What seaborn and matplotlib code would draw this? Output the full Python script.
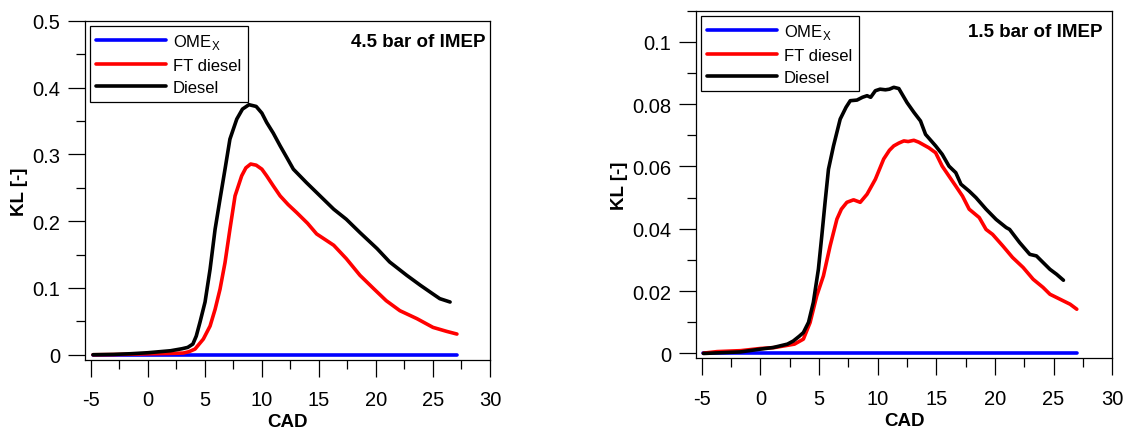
import numpy as np
import pandas as pd
import seaborn as sns
import matplotlib.pyplot as plt
from matplotlib.ticker import MultipleLocator, FuncFormatter

# ============================== DATA ==============================

# 4.5 bar of IMEP
hi_diesel_cad = [-4.8, -3, -1.5, 0, 1.0, 2.0, 3.0, 3.5, 3.95, 4.25, 4.58, 5.02, 5.46, 5.9, 6.33, 6.77,
                 7.2, 7.8, 8.3, 8.87, 9.5, 10.0, 10.42, 11.0, 11.6, 12.2, 12.76, 13.9, 15.1, 16.3,
                 17.4, 18.6, 20.1, 21.2, 22.7, 23.9, 25.0, 25.6, 26.5]
hi_diesel_kl = [0.0, 0.0005, 0.0015, 0.003, 0.0045, 0.006, 0.009, 0.011, 0.016, 0.028, 0.049, 0.079,
                0.128, 0.188, 0.233, 0.278, 0.323, 0.353, 0.368, 0.3746, 0.372, 0.362, 0.348,
                0.332, 0.313, 0.295, 0.278, 0.258, 0.238, 0.218, 0.203, 0.183, 0.159, 0.139,
                0.119, 0.104, 0.091, 0.084, 0.079]
hi_ft_cad = [-4.8, -3, -1, 0.5, 2.0, 3.1, 3.6, 4.14, 4.87, 5.46, 5.9, 6.33, 6.77, 7.2, 7.65, 8.23,
             8.6, 9.02, 9.5, 10.0, 10.42, 11.0, 11.6, 12.3, 13.05, 14.0, 14.8, 16.3, 17.4, 18.6,
             19.8, 20.9, 22.1, 23.6, 25.0, 26.2, 27.1]
hi_ft_kl = [0.0, 0.0003, 0.001, 0.0015, 0.002, 0.0025, 0.0045, 0.0085, 0.0235, 0.043, 0.068, 0.098,
            0.138, 0.188, 0.238, 0.268, 0.28, 0.2857, 0.284, 0.278, 0.268, 0.253, 0.238, 0.225,
            0.213, 0.197, 0.181, 0.164, 0.144, 0.119, 0.099, 0.081, 0.066, 0.054, 0.041, 0.035,
            0.031]
hi_ome_cad = [-4.8, 27.1]
hi_ome_kl = [0.0, 0.0]

# 1.5 bar of IMEP
lo_diesel_cad = [-4.86, -1.7, 0.0, 1.08, 2.3, 2.8, 3.3, 3.66, 4.1, 4.51, 4.94, 5.23, 5.51, 5.8, 6.23,
                 6.8, 7.3, 7.66, 8.23, 8.7, 9.09, 9.4, 9.8, 10.2, 10.66, 11.0, 11.37, 11.8, 12.5,
                 13.1, 13.65, 14.08, 14.94, 15.5, 16.08, 16.66, 17.1, 17.8, 18.38, 19.24, 20.1,
                 20.96, 21.25, 22.1, 22.97, 23.54, 24.1, 24.69, 25.26, 25.84]
lo_diesel_kl = [0.0, 0.0005, 0.0014, 0.0019, 0.003, 0.004, 0.0055, 0.0067, 0.010, 0.0164, 0.027,
                0.0377, 0.0485, 0.0591, 0.0666, 0.0752, 0.079, 0.0811, 0.0813, 0.0822, 0.0827,
                0.0822, 0.0843, 0.0848, 0.0846, 0.0848, 0.0854, 0.085, 0.0805, 0.0773, 0.0746,
                0.0703, 0.0666, 0.0639, 0.0601, 0.058, 0.0543, 0.0521, 0.050, 0.0463, 0.043,
                0.0404, 0.0398, 0.0356, 0.0318, 0.0313, 0.0292, 0.027, 0.0254, 0.0235]
lo_ft_cad = [-4.86, -3.7, -1.7, 0.0, 1.2, 2.9, 3.66, 4.23, 4.8, 5.37, 5.94, 6.52, 6.9, 7.37, 7.94,
             8.51, 9.09, 9.8, 10.51, 11.0, 11.37, 11.8, 12.23, 12.6, 13.08, 13.5, 14.36, 14.94,
             15.5, 16.08, 16.66, 17.23, 17.8, 18.66, 19.24, 19.8, 20.67, 21.5, 22.4, 23.26, 24.1,
             24.69, 25.55, 26.41, 26.98]
lo_ft_kl = [0.0001, 0.0006, 0.0009, 0.0016, 0.0019, 0.003, 0.0046, 0.0099, 0.0185, 0.0249, 0.0345,
            0.0431, 0.0463, 0.0485, 0.0493, 0.0485, 0.0511, 0.0559, 0.0624, 0.0652, 0.0666,
            0.0675, 0.0682, 0.068, 0.0684, 0.0678, 0.066, 0.0644, 0.0601, 0.0569, 0.0537, 0.0505,
            0.0463, 0.0436, 0.0398, 0.0382, 0.0345, 0.0308, 0.0276, 0.0238, 0.0212, 0.019,
            0.0174, 0.0158, 0.0142]
lo_ome_cad = [-4.86, 27.0]
lo_ome_kl = [0.0, 0.0]

fuel_labels = ["OME$_\\mathregular{X}$", "FT diesel", "Diesel"]
fuel_colors = ["#0000ff", "#ff0000", "#000000"]
panel_titles = ["4.5 bar of IMEP", "1.5 bar of IMEP"]

# ============================== STYLE ==============================

sns.set_theme(style="white")
plt.rcParams['font.family'] = ['Liberation Sans', 'DejaVu Sans']
plt.rcParams['mathtext.fontset'] = 'custom'
plt.rcParams['mathtext.rm'] = 'Liberation Sans'
plt.rcParams['axes.unicode_minus'] = False
plt.rcParams['text.color'] = 'black'
plt.rcParams['axes.labelcolor'] = 'black'
plt.rcParams['xtick.color'] = 'black'
plt.rcParams['ytick.color'] = 'black'

fig = plt.figure(figsize=(11.28, 4.31), dpi=100)
ax_hi = fig.add_axes([0.0754, 0.163, 0.359, 0.786])
ax_lo = fig.add_axes([0.617, 0.166, 0.369, 0.807])

panels = [
    (ax_hi, [(hi_ome_cad, hi_ome_kl), (hi_ft_cad, hi_ft_kl), (hi_diesel_cad, hi_diesel_kl)],
     (-0.0075, 0.5), 0.1, 0.05, (0.988, 0.938)),
    (ax_lo, [(lo_ome_cad, lo_ome_kl), (lo_ft_cad, lo_ft_kl), (lo_diesel_cad, lo_diesel_kl)],
     (-0.0016, 0.11), 0.02, 0.01, (0.976, 0.939)),
]

for (ax, series, ylim, ymaj, ymin, tpos), title in zip(panels, panel_titles):
    for (cad, kl), label, color in zip(series, fuel_labels, fuel_colors):
        sns.lineplot(x=np.array(cad), y=np.array(kl), ax=ax, color=color, label=label,
                     lw=2.6, sort=False, solid_capstyle='round', solid_joinstyle='round')

    ax.set_xlim(-5.5, 30)
    ax.set_ylim(*ylim)
    ax.xaxis.set_major_locator(MultipleLocator(5))
    ax.xaxis.set_minor_locator(MultipleLocator(2.5))
    ax.yaxis.set_major_locator(MultipleLocator(ymaj))
    ax.yaxis.set_minor_locator(MultipleLocator(ymin))
    ax.yaxis.set_major_formatter(FuncFormatter(lambda v, p: f"{v:g}" if abs(v) > 1e-9 else "0"))
    ax.tick_params(which='major', direction='out', length=12, width=0.9, color='black',
                   labelsize=14.5, pad=6, bottom=True, left=True)
    ax.tick_params(axis='x', which='major', pad=10)
    ax.tick_params(which='minor', direction='out', length=6.5, width=0.9, color='black',
                   bottom=True, left=True)
    for s in ax.spines.values():
        s.set_color('black')
        s.set_linewidth(0.9)

    ax.set_xlabel("CAD", fontsize=13.5, fontweight='bold', labelpad=3)
    ax.set_ylabel("KL [-]", fontsize=13.5, fontweight='bold', labelpad=3)

    ax.text(tpos[0], tpos[1], title, transform=ax.transAxes, ha='right', va='center',
            fontsize=13.5, fontweight='bold')

    leg = ax.legend(loc='upper left', fontsize=12, frameon=True, fancybox=False,
                    framealpha=1, edgecolor='black', borderaxespad=0.3,
                    handlelength=4.2, handletextpad=0.4, labelspacing=0.42,
                    borderpad=0.38)
    leg.get_frame().set_linewidth(0.9)

fig.savefig("out.png", dpi=100)
